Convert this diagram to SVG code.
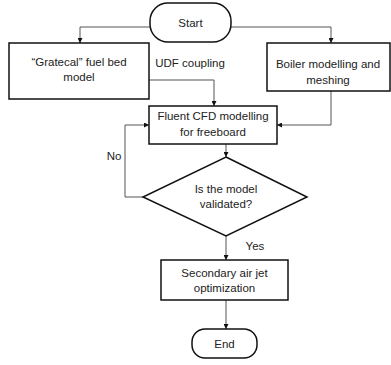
<svg xmlns="http://www.w3.org/2000/svg" width="391" height="365" viewBox="0 0 391 365">
<defs>
<marker id="ah" viewBox="0 0 10 10" refX="10" refY="5" markerWidth="5" markerHeight="5" orient="auto" markerUnits="userSpaceOnUse"><path d="M0,0 L10,5 L0,10 z" fill="#111"/></marker>
<style>
.box{fill:#fff;stroke:#111;stroke-width:1.5}
.con{fill:none;stroke:#555;stroke-width:1;marker-end:url(#ah)}
text{font-family:"Liberation Sans",Arial,sans-serif;font-size:11.5px;fill:#222;text-anchor:middle;dominant-baseline:central}
</style>
</defs>
<rect width="391" height="365" fill="#fff"/>
<g id="connectors">
<path class="con" d="M150,27 H80 V43"/>
<path class="con" d="M231,27 H331 V43"/>
<path class="con" d="M149,80 H214 V106"/>
<path class="con" d="M331,91 V125 H277"/>
<path class="con" d="M226,144 V157"/>
<path class="con" d="M143,197 H125 V125 H149"/>
<path class="con" d="M226,236 V260"/>
<path class="con" d="M226,300 V329"/>
<text x="190" y="63">UDF coupling</text>
<text x="114" y="156">No</text>
<text x="255" y="246">Yes</text>
</g>
<g id="start"><rect class="box" x="150" y="3" width="81" height="39" rx="18"/><text x="190.5" y="22.5">Start</text></g>
<g id="gratecal"><rect class="box" x="9" y="43" width="140" height="56"/><text x="79" y="62">“Gratecal” fuel bed</text><text x="79" y="77">model</text></g>
<g id="boiler"><rect class="box" x="267" y="43" width="123" height="48"/><text x="328" y="64">Boiler modelling and</text><text x="328" y="80">meshing</text></g>
<g id="fluent"><rect class="box" x="149" y="106" width="128" height="38"/><text x="213" y="116">Fluent CFD modelling</text><text x="213" y="132">for freeboard</text></g>
<g id="validated"><path class="box" d="M226,157 L307,197 L226,236 L143,197 Z"/><text x="226" y="189">Is the model</text><text x="226" y="204">validated?</text></g>
<g id="secondary"><rect class="box" x="161" y="260" width="127" height="40"/><text x="224.5" y="273">Secondary air jet</text><text x="224.5" y="288">optimization</text></g>
<g id="end"><rect class="box" x="192" y="329" width="65" height="29" rx="13"/><text x="224.5" y="344">End</text></g>
</svg>
